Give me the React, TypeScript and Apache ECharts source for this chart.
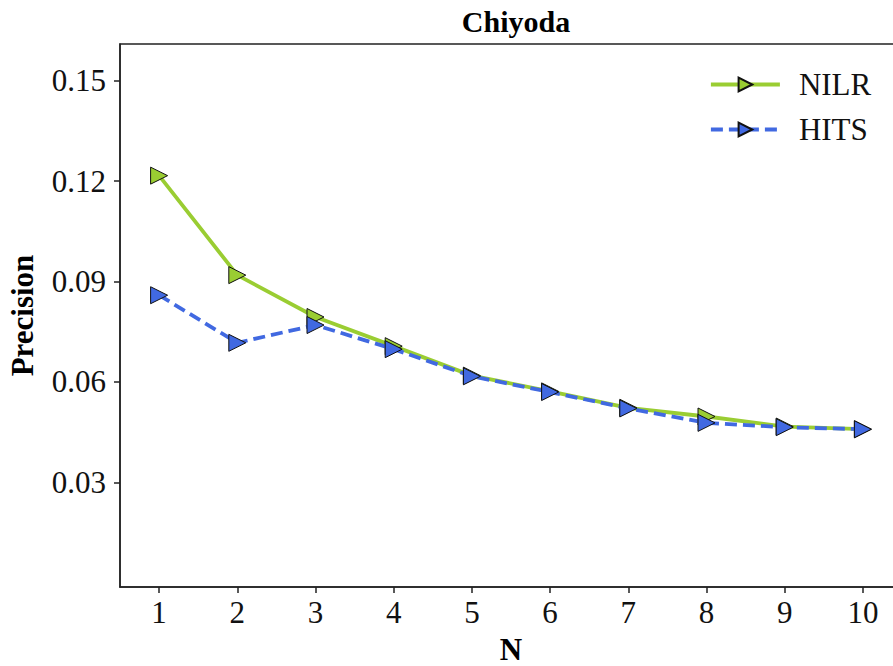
import React, { useEffect, useRef } from "react";
import * as echarts from "echarts";

// Top-N values for the Chiyoda ward
const nValues = ["1", "2", "3", "4", "5", "6", "7", "8", "9", "10"];
const nilrPrecision = [0.1216, 0.0919, 0.0794, 0.0707, 0.0619, 0.0572, 0.0523, 0.0497, 0.0467, 0.0459];
const hitsPrecision = [0.0859, 0.0717, 0.0770, 0.0698, 0.0617, 0.0570, 0.0521, 0.0478, 0.0465, 0.0459];
const yTickValues = [0.03, 0.06, 0.09, 0.12, 0.15];

const SERIF = "'Liberation Serif', 'Times New Roman', serif";
const GREEN = "#9acd32";
const BLUE = "#4169e1";

export default function App() {
  const ref = useRef<HTMLDivElement>(null);

  useEffect(() => {
    if (!ref.current) return;
    const chart = echarts.init(ref.current, null, { renderer: "svg" });
    const axisLine = { show: true, onZero: false, lineStyle: { color: "#222", width: 1.5 } };
    chart.setOption({
      animation: false,
      backgroundColor: "#fff",
      title: {
        text: "Chiyoda",
        left: 511,
        textAlign: "center",
        top: 1,
        textStyle: { fontFamily: SERIF, fontWeight: "bold", fontSize: 30, color: "#000" },
      },
      legend: {
        orient: "vertical",
        left: 704,
        top: 64,
        itemWidth: 69,
        itemHeight: 17,
        itemGap: 14,
        lineStyle: { width: 3.8 },
        textStyle: { fontFamily: SERIF, fontSize: 31, color: "#111", padding: [0, 0, 0, 14] },
        data: ["NILR", "HITS"],
      },
      grid: {
        left: 120,
        top: 44,
        right: 1,
        bottom: 79,
        outerBoundsMode: "none",
        containLabel: false,
        show: true,
        borderColor: "#222",
        borderWidth: 1.5,
      },
      xAxis: {
        type: "category",
        data: nValues,
        boundaryGap: true,
        name: "N",
        nameLocation: "middle",
        nameGap: 47,
        nameTextStyle: { fontFamily: SERIF, fontWeight: "bold", fontSize: 31, color: "#000" },
        axisLine,
        axisTick: { show: true, alignWithLabel: true, length: 6, lineStyle: { color: "#222", width: 1.5 } },
        axisLabel: { fontFamily: SERIF, fontSize: 31, color: "#111", margin: 10 },
        splitLine: { show: false },
      },
      yAxis: {
        type: "value",
        min: -0.0012,
        max: 0.1609,
        name: "Precision",
        nameLocation: "middle",
        nameGap: 82,
        nameTextStyle: { fontFamily: SERIF, fontWeight: "bold", fontSize: 31, color: "#000" },
        axisLine,
        axisTick: { show: true, length: 6, customValues: yTickValues, lineStyle: { color: "#222", width: 1.5 } },
        axisLabel: {
          fontFamily: SERIF,
          fontSize: 31,
          color: "#111",
          margin: 14,
          customValues: yTickValues,
          formatter: (v: number) => v.toFixed(2),
        },
        splitLine: { show: false },
      },
      series: [
        {
          name: "NILR",
          type: "line",
          data: nilrPrecision,
          symbol: "triangle",
          symbolRotate: -90,
          symbolSize: 17,
          showAllSymbol: true,
          lineStyle: { color: GREEN, width: 3.8 },
          itemStyle: { color: GREEN, borderColor: "#111", borderWidth: 1 },
          z: 2,
        },
        {
          name: "HITS",
          type: "line",
          data: hitsPrecision,
          symbol: "triangle",
          symbolRotate: -90,
          symbolSize: 17,
          showAllSymbol: true,
          lineStyle: { color: BLUE, width: 3.8, type: [12, 6] },
          itemStyle: { color: BLUE, borderColor: "#111", borderWidth: 1 },
          z: 3,
        },
      ],
    });
    return () => chart.dispose();
  }, []);

  return <div ref={ref} style={{ position: "fixed", left: 0, top: 0, width: 903, height: 666 }} />;
}
